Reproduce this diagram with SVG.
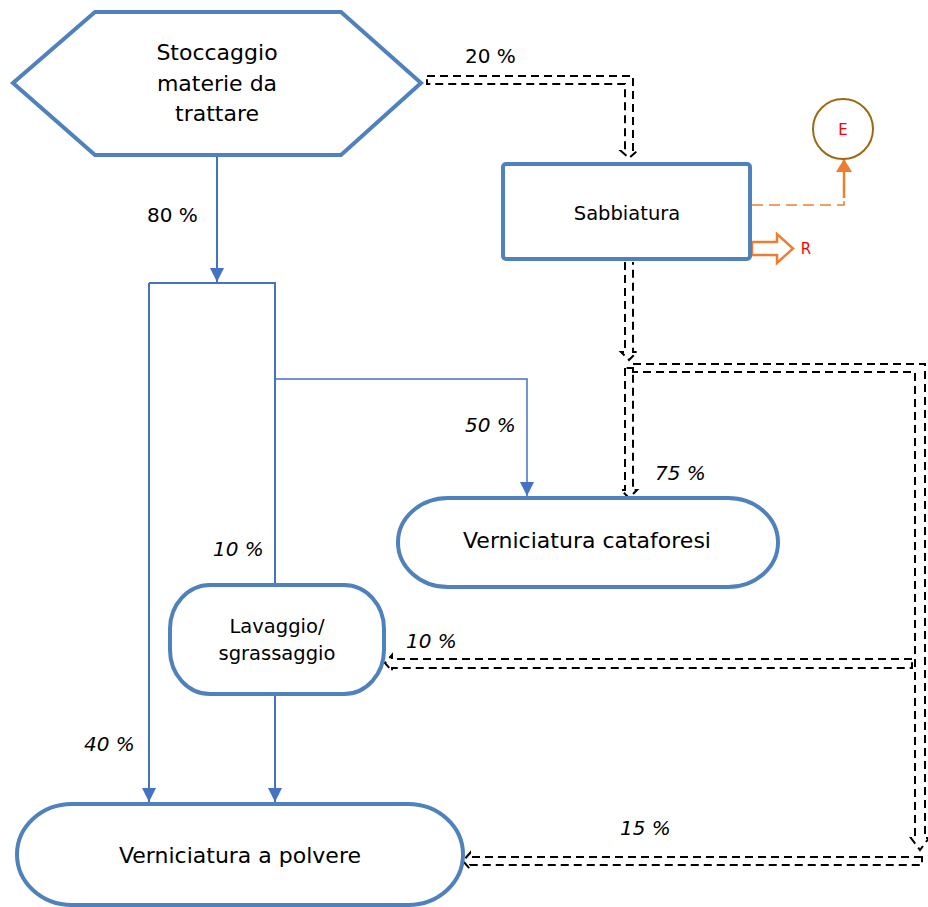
<svg xmlns="http://www.w3.org/2000/svg" width="928" height="907" viewBox="0 0 928 907">
<defs>
<style>
.node{fill:#fff;stroke:#4f81bd;stroke-width:4}
.t{font-family:"DejaVu Sans","Verdana",sans-serif;fill:#000;text-anchor:middle}
.p{font-family:"DejaVu Sans","Verdana",sans-serif;fill:#000;font-size:20px}
.i{font-style:italic}
.blue{fill:none;stroke:#4472c4;stroke-width:2}
.dash{fill:none;stroke:#000;stroke-width:2;stroke-dasharray:8 5}
.red{font-family:"DejaVu Sans",sans-serif;fill:#ff0000;font-size:15px;text-anchor:middle}
</style>
<marker id="ab" markerUnits="userSpaceOnUse" markerWidth="14" markerHeight="14" refX="14" refY="7" orient="auto">
<path d="M0,0 L14,7 L0,14 Z" fill="#4472c4"/>
</marker>
<marker id="ao" markerUnits="userSpaceOnUse" markerWidth="14" markerHeight="16" refX="13" refY="8" orient="auto">
<path d="M0,0 L13,8 L0,16 Z" fill="#ed7d31"/>
</marker>
</defs>

<g id="connectors">
<path class="blue" d="M217,157 V282" marker-end="url(#ab)"/>
<path class="blue" d="M149,283 V802" marker-end="url(#ab)"/>
<path class="blue" d="M149,283 H275 V585"/>
<path class="blue" style="stroke-width:1.5" d="M275,379 H527 V496" marker-end="url(#ab)"/>
<path class="blue" d="M275,694 V802" marker-end="url(#ab)"/>
<path class="dash" d="M427,76 H633 V151 H637 L629,158 L621,151 H625 V84 H427 Z"/>
<path class="dash" d="M625,262 V352 H621 L629,360 L637,352 H633 V262"/>
<path class="dash" d="M633,364 H925 V838 H929 L920,850 L911,838 H915 V372 H633 Z"/>
<path class="dash" d="M625,368 V490 H621 L629,498 L637,490 H633 V368 Z"/>
<path class="dash" d="M912,659 H392 V655 L385,663 L392,671 V668 H912 Z"/>
<path class="dash" d="M922,857 H470 V853 L463,861 L470,869 V865 H922 Z"/>
<path d="M752,205 H844 V187" fill="none" stroke="#ed7d31" stroke-width="1.5" stroke-dasharray="11 6"/>
<path d="M844,198 V159" fill="none" stroke="#ed7d31" stroke-width="2.5" marker-end="url(#ao)"/>
<polygon points="752,242 777,242 777,234 793,248.5 777,263 777,255 752,255" fill="#fff" stroke="#ed7d31" stroke-width="2.5"/>
<text class="p" x="465" y="63">20 %</text>
<text class="p" x="147" y="222">80 %</text>
<text class="p i" x="465" y="432">50 %</text>
<text class="p i" x="655" y="480">75 %</text>
<text class="p i" x="213" y="556">10 %</text>
<text class="p i" x="84" y="751">40 %</text>
<text class="p i" x="406" y="648">10 %</text>
<text class="p i" x="620" y="835">15 %</text>
<text class="red" x="806" y="254">R</text>
</g>

<g id="stoccaggio">
<polygon class="node" points="13,83 95,12 341,12 421,83 341,155 95,155" stroke-width="4.5"/>
<text class="t" font-size="22" x="217" y="60">Stoccaggio</text>
<text class="t" font-size="22" x="217" y="91">materie da</text>
<text class="t" font-size="22" x="217" y="121">trattare</text>
</g>

<g id="sabbiatura">
<rect class="node" x="503" y="164" width="247" height="95" rx="3"/>
<text class="t" font-size="19.5" x="627" y="220">Sabbiatura</text>
</g>

<g id="emissioni">
<circle cx="843" cy="129" r="30" fill="#fff" stroke="#9c6a12" stroke-width="2"/>
<text class="red" x="843" y="135">E</text>
</g>

<g id="cataforesi">
<rect class="node" x="398" y="498" width="380" height="89" rx="50" ry="44.5"/>
<text class="t" font-size="22" x="587" y="548">Verniciatura cataforesi</text>
</g>

<g id="lavaggio">
<rect class="node" x="170" y="585" width="214" height="109" rx="40" ry="44"/>
<text class="t" font-size="19.5" x="277" y="633">Lavaggio/</text>
<text class="t" font-size="19.5" x="277" y="660">sgrassaggio</text>
</g>

<g id="polvere">
<rect class="node" x="17" y="804" width="446" height="101" rx="55" ry="50.5"/>
<text class="t" font-size="22" x="240" y="863">Verniciatura a polvere</text>
</g>
</svg>
